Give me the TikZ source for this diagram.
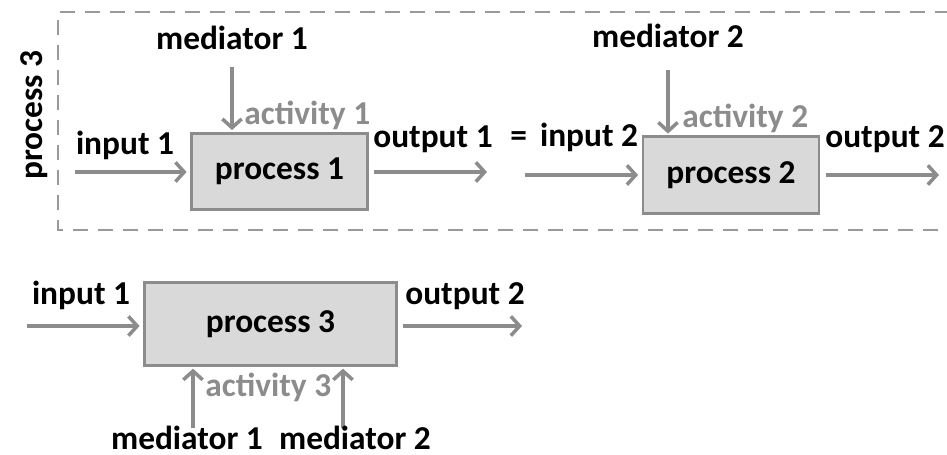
\documentclass[tikz,border=0pt]{standalone}
\usepackage{fontspec}
\setmainfont{Carlito}
\usetikzlibrary{arrows.meta}

\definecolor{linegray}{HTML}{8C8C8C}
\definecolor{boxgray}{HTML}{D9D9D9}
\definecolor{dashgray}{HTML}{9A9A9A}

\tikzset{%
  every label text/.style={
    font=\bfseries\fontsize{19}{22}\selectfont,
    inner sep=0pt
  },
  activity text/.style={
    every label text,
    text=linegray
  },
  process box/.style={
    rectangle,
    draw=linegray,
    fill=boxgray,
    line width=1.6pt,
    font=\bfseries\fontsize{19}{22}\selectfont
  },
  flow/.style={
    draw=linegray,
    line width=2pt,
    -{Straight Barb[length=5pt, width=11pt]}
  },
}

\begin{document}
\begin{tikzpicture}[x=0.02cm, y=-0.02cm]

    \useasboundingbox (0,0) rectangle (947,455);

    \draw [dashgray, line width=1.5pt, dash pattern=on 0.3cm off 0.2cm]
      (950,12) -- (58,12) -- (58,230) -- (950,230);

    \node [every label text, rotate=90, anchor=base] (p3-side) at (42,115) {process 3};

    \foreach \n/\x/\y in {1/279.5/171.5, 2/731/175}
      \node [process box, minimum width=3.52cm, minimum height=1.53cm] (proc\n) at (\x,\y) {process \n};

    \node [process box, minimum width=5.04cm, minimum height=1.66cm] (proc3) at (270.5,324) {process 3};

    \coordinate (in1) at (75,172);
    \coordinate (out1) at (487,172);
    \coordinate (in2) at (525,175);
    \coordinate (out2) at (939,175);
    \coordinate (med1) at (232,67);
    \coordinate (med2) at (668,70);
    \coordinate (in3) at (27,326);
    \coordinate (out3) at (522,326);
    \coordinate (med3a) at (193,428);
    \coordinate (med3b) at (343,428);

    \draw [flow, shorten >=2pt] (in1) -- (proc1.west |- in1);
    \draw [flow, shorten <=3pt] (proc1.east |- out1) -- (out1);
    \draw [flow, shorten >=2pt] (in2) -- (proc2.west |- in2);
    \draw [flow, shorten <=3pt] (proc2.east |- out2) -- (out2);
    \draw [flow, shorten >=1pt] (med1) -- (proc1.north -| med1);
    \draw [flow, shorten >=1pt] (med2) -- (proc2.north -| med2);

    \draw [flow, shorten >=2pt] (in3) -- (proc3.west |- in3);
    \draw [flow, shorten <=3pt] (proc3.east |- out3) -- (out3);
    \foreach \m in {med3a, med3b}
      \draw [flow, shorten >=1pt] (\m) -- (proc3.south -| \m);

    \node [every label text, anchor=base] (in1-lbl) at (125,155) {input 1};
    \node [every label text, anchor=base] (out1-lbl) at (433,148) {output 1};
    \node [every label text, anchor=base west] (in2-lbl) at (510,147) {= \,input 2};
    \node [every label text, anchor=base] (out2-lbl) at (885,148) {output 2};
    \node [every label text, anchor=base] (med1-lbl) at (232,50) {mediator 1};
    \node [every label text, anchor=base] (med2-lbl) at (668,48) {mediator 2};

    \node [activity text, anchor=base west] (act1) at (244,125) {activity 1};
    \node [activity text, anchor=base west] (act2) at (682,128) {activity 2};
    \node [activity text, anchor=base west] (act3) at (205,397) {activity 3};

    \node [every label text, anchor=base] (in3-lbl) at (81,305) {input 1};
    \node [every label text, anchor=base] (out3-lbl) at (465,305) {output 2};
    \node [every label text, anchor=base] (med3a-lbl) at (187,450) {mediator 1};
    \node [every label text, anchor=base] (med3b-lbl) at (355,450) {mediator 2};

\end{tikzpicture}
\end{document}
